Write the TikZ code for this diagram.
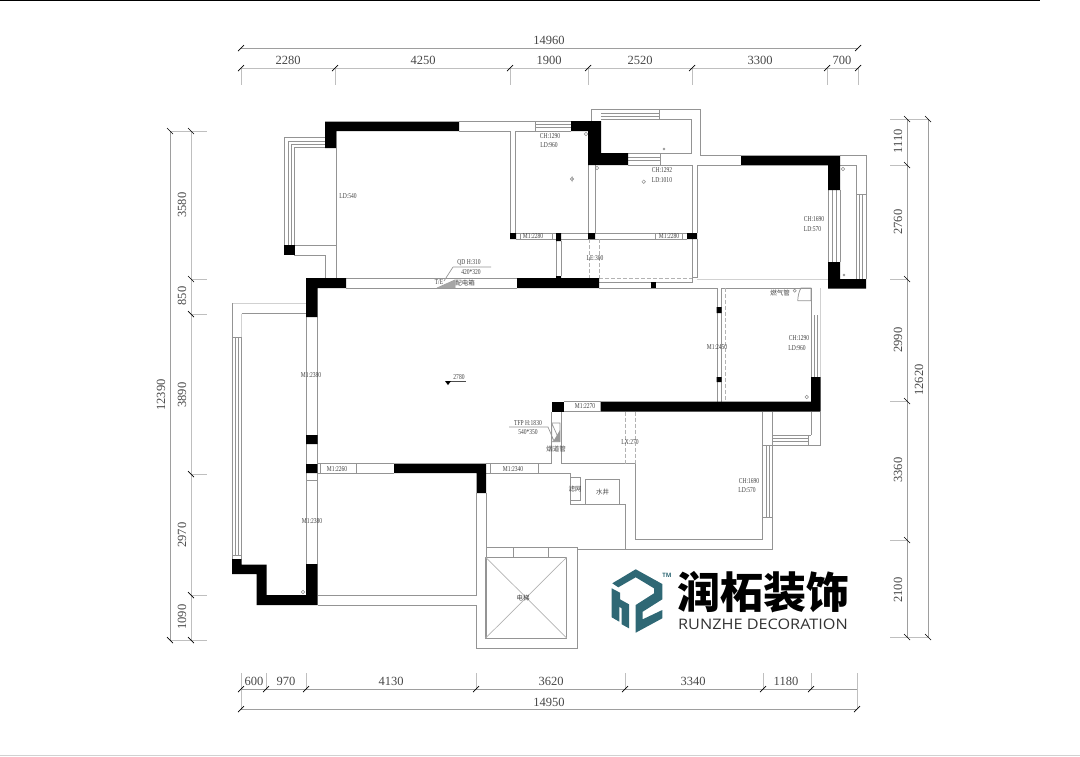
\documentclass[tikz,border=0pt]{standalone}
\usepackage{fontspec}
\setmainfont{Liberation Serif}
\newfontfamily\cjk{Noto Sans CJK SC}
\newfontfamily\logofont{Open Sans}
\definecolor{logoteal}{RGB}{47,104,117}
\begin{document}
\begin{tikzpicture}[x=1pt,y=-1pt]
\tikzstyle{wall} = [fill=black,draw=none]
\tikzstyle{plan} = [draw=black!42,line width=0.7pt]
\tikzstyle{faint} = [draw=black!18,line width=0.7pt]
\tikzstyle{dashline} = [draw=black!30,line width=0.7pt,dash pattern=on 4pt off 2pt]
\tikzstyle{dimline} = [draw=black!38,line width=0.7pt]
\tikzstyle{dimext} = [draw=black!25,line width=0.6pt]
\tikzstyle{slash} = [draw=black,line width=0.7pt]
\tikzstyle{dimtext} = [inner sep=0pt,text=black!72,font=\fontsize{12.5}{13}\selectfont]
\tikzstyle{note} = [inner sep=0pt,text=black!75,transform shape,xscale=.74,font=\fontsize{7.5}{8}\selectfont]
\tikzstyle{cjknote} = [inner sep=0pt,text=black!75,font=\cjk\fontsize{6.5}{7}\selectfont]
\useasboundingbox (0,0) rectangle (1080,756);
\draw[draw=black,line width=0.8pt] (0,0.5) -- (1040,0.5);
\draw[faint] (0,755.5) -- (1080,755.5);

% top dimensions
\draw[dimline] (241,48) -- (858,48);
\draw[dimext] (241,68) -- (858,68);
\draw[dimext] (241,68) -- (241,85) (335,68) -- (335,85) (510,68) -- (510,85)
  (588,68) -- (588,85) (692,68) -- (692,85) (827,68) -- (827,85) (858,68) -- (858,85);
\draw[slash] (241,48) ++(-3,3) -- ++(6,-6) (858,48) ++(-3,3) -- ++(6,-6)
  (241,68) ++(-3,3) -- ++(6,-6) (335,68) ++(-3,3) -- ++(6,-6) (510,68) ++(-3,3) -- ++(6,-6)
  (588,68) ++(-3,3) -- ++(6,-6) (692,68) ++(-3,3) -- ++(6,-6) (827,68) ++(-3,3) -- ++(6,-6)
  (858,68) ++(-3,3) -- ++(6,-6);
\node[dimtext] (topall) at (549,40) {14960};
\node[dimtext] (top1) at (288,60) {2280};
\node[dimtext] (top2) at (423,60) {4250};
\node[dimtext] (top3) at (549,60) {1900};
\node[dimtext] (top4) at (640,60) {2520};
\node[dimtext] (top5) at (760,60) {3300};
\node[dimtext] (top6) at (842,60) {700};

% left dimensions
\draw[dimline] (170,131) -- (170,640);
\draw[dimext] (191,131) -- (191,640);
\draw[dimext] (170,131) -- (207,131) (191,279) -- (207,279) (191,314) -- (207,314)
  (191,474) -- (207,474) (191,595) -- (207,595) (170,640) -- (207,640);
\draw[slash] (170,131) ++(-3,-3) -- ++(6,6) (191,131) ++(-3,-3) -- ++(6,6)
  (191,279) ++(-3,-3) -- ++(6,6) (191,314) ++(-3,-3) -- ++(6,6) (191,474) ++(-3,-3) -- ++(6,6)
  (191,595) ++(-3,-3) -- ++(6,6) (191,640) ++(-3,-3) -- ++(6,6) (170,640) ++(-3,-3) -- ++(6,6);
\node[dimtext,rotate=90] (leftall) at (161,395) {12390};
\node[dimtext,rotate=90] (left1) at (182,205) {3580};
\node[dimtext,rotate=90] (left2) at (182,296) {850};
\node[dimtext,rotate=90] (left3) at (182,395) {3890};
\node[dimtext,rotate=90] (left4) at (182,535) {2970};
\node[dimtext,rotate=90] (left5) at (182,617) {1090};

% right dimensions
\draw[dimline] (907,119) -- (907,637) (928,119) -- (928,637);
\draw[dimext] (890,119) -- (928,119) (890,165) -- (907,165) (890,279) -- (907,279)
  (890,401) -- (907,401) (890,540) -- (907,540) (890,637) -- (928,637);
\draw[slash] (907,119) ++(-3,-3) -- ++(6,6) (928,119) ++(-3,-3) -- ++(6,6)
  (907,165) ++(-3,-3) -- ++(6,6) (907,279) ++(-3,-3) -- ++(6,6) (907,401) ++(-3,-3) -- ++(6,6)
  (907,540) ++(-3,-3) -- ++(6,6) (907,637) ++(-3,-3) -- ++(6,6) (928,637) ++(-3,-3) -- ++(6,6);
\node[dimtext,rotate=90] (rightall) at (919,380) {12620};
\node[dimtext,rotate=90] (right1) at (898,141) {1110};
\node[dimtext,rotate=90] (right2) at (898,222) {2760};
\node[dimtext,rotate=90] (right3) at (898,340) {2990};
\node[dimtext,rotate=90] (right4) at (898,470) {3360};
\node[dimtext,rotate=90] (right5) at (898,590) {2100};

% bottom dimensions
\draw[dimline] (241,689) -- (857,689) (241,709) -- (857,709);
\draw[dimext] (241,673) -- (241,709) (266,673) -- (266,689) (306,673) -- (306,689)
  (476,673) -- (476,689) (625,673) -- (625,689) (763,673) -- (763,689) (811,673) -- (811,689)
  (857,673) -- (857,709);
\draw[slash] (241,689) ++(-3,3) -- ++(6,-6) (266,689) ++(-3,3) -- ++(6,-6) (306,689) ++(-3,3) -- ++(6,-6)
  (476,689) ++(-3,3) -- ++(6,-6) (625,689) ++(-3,3) -- ++(6,-6) (763,689) ++(-3,3) -- ++(6,-6)
  (811,689) ++(-3,3) -- ++(6,-6) (241,709) ++(-3,3) -- ++(6,-6) (857,709) ++(-3,3) -- ++(6,-6);
\node[dimtext] (bot1) at (254,681) {600};
\node[dimtext] (bot2) at (286,681) {970};
\node[dimtext] (bot3) at (391,681) {4130};
\node[dimtext] (bot4) at (551,681) {3620};
\node[dimtext] (bot5) at (693,681) {3340};
\node[dimtext] (bot6) at (786,681) {1180};
\node[dimtext] (botall) at (549,702) {14950};

% thin walls, upper part
\draw[plan] (284,137.5) -- (325,137.5) (288,141) -- (325,141) (291,144) -- (325,144) (294,147.5) -- (325,147.5);
\draw[plan] (284,137.5) -- (284,245) (288,141) -- (288,245) (291,144) -- (291,245) (294,147.5) -- (294,245);
\draw[plan] (294,245) -- (336,245) (294,255) -- (325,255) -- (325,279) (336,131) -- (336,279);
\draw[plan] (459,121.5) -- (571,121.5) (459,131) -- (510,131) -- (510,233) (515,233) -- (515,131) -- (571,131);
\draw[plan] (535,124.5) -- (571,124.5) (535,127.5) -- (571,127.5) (535,121.5) -- (535,131);
\draw[plan] (591,121) -- (591,109) -- (700,109) -- (700,155) -- (741,155);
\draw[plan] (601,119) -- (691,119) -- (691,153) -- (628,153);
\draw[plan] (601,113) -- (659,113) (601,116) -- (659,116) (659,109) -- (659,119);
\draw[plan] (628,157) -- (660,157) (628,160) -- (660,160) (660,153) -- (660,165);
\draw[plan] (628,165) -- (692.5,165) -- (692.5,282) -- (599,282) (595,165) -- (595,233) (588,165) -- (588,233);
\draw[plan] (697,233) -- (697,165) -- (741,165) (697,239) -- (697,277) -- (692.5,277);
\draw[faint] (697,279) -- (828,279);
\draw[plan] (516,233) -- (687,233) (516,239) -- (687,239);
\draw[plan] (520,233) -- (520,239) (552,233) -- (552,239) (655,233) -- (655,239) (682,233) -- (682,239);
\draw[plan] (556,241) -- (556,276) (561,241) -- (561,276);
\draw[dashline] (589,239) -- (589,278) (599,239) -- (599,278) (599,278) -- (692,278);
\draw[plan] (840,155) -- (866,155) -- (866,279) (840,165) -- (856,165) -- (856,194) -- (866,194);
\draw[plan] (859,194) -- (859,279) (862,194) -- (862,279) (856,194) -- (856,279);
\draw[plan] (828,190) -- (828,262) (832,190) -- (832,262) (836,190) -- (836,262) (840,190) -- (840,262);
\draw[plan] (346,278.5) -- (517,278.5) (346,288) -- (517,288) (599,288) -- (717,288);
\draw[plan] (721.7,288) -- (811,288) (717,288) -- (717,401.7) (721.7,288) -- (721.7,401.7);
\draw[dashline] (725.7,288) -- (725.7,401.7);
\draw[plan] (811,288) -- (811,377) (814,315) -- (814,377) (817.5,315) -- (817.5,377);
\draw[faint] (820.7,288) -- (820.7,377);

% thin walls, left part
\draw[faint] (232,303) -- (306,303) (241.7,313.5) -- (241.7,337);
\draw[plan] (241.7,313.5) -- (306,313.5) (232,303) -- (232,559) (235,337) -- (235,555) (238,337) -- (238,555);
\draw[plan] (241.7,337) -- (241.7,559) (232,337.5) -- (241.7,337.5) (232,555) -- (241.7,555);
\draw[plan] (306,317) -- (306,564) (317.5,317) -- (317.5,464) (317.5,473) -- (317.5,564);
\draw[plan] (306,480) -- (317.5,480);
\draw[plan] (317.5,463.7) -- (394,463.7) (317.5,473) -- (394,473) (320.7,463.7) -- (320.7,473) (356.7,463.7) -- (356.7,473);
\draw[plan] (476.5,493) -- (476.5,595) -- (317.5,595) (317.5,605) -- (476.7,605) -- (476.7,648) -- (577.3,648) -- (577.3,547.3) -- (485.7,547.3);
\draw[plan] (486,493) -- (486,638);

% elevator
\draw[plan] (485.7,557.3) rectangle (566.7,638) (513,547.3) -- (513,557.3) (548.7,547.3) -- (548.7,557.3);
\draw[plan,draw=black!30] (485.7,557.3) -- (566.7,638) (566.7,557.3) -- (485.7,638);
\draw[plan] (577.3,549) -- (772.3,549) -- (772.3,517);

% thin walls, lower right
\draw[plan] (486,463.5) -- (551.7,463.5) -- (551.7,411.7) (561,411.7) -- (561,463.5) -- (635.3,463.5);
\draw[plan] (486,473) -- (570,473) -- (570,504) -- (625.3,504) -- (625.3,549) (490.7,463.5) -- (490.7,473) (538.3,463.5) -- (538.3,473);
\draw[dashline] (625.3,411.7) -- (625.3,463.5) (635.3,411.7) -- (635.3,463.5);
\draw[plan] (635.3,463.5) -- (635.3,539) -- (762.3,539) -- (762.3,411.7) (772.3,411.7) -- (772.3,445);
\draw[plan] (772.3,435) -- (808,435) (772.3,438) -- (808,438) (772.3,441.7) -- (808,441.7) (772.3,445) -- (820.7,445) -- (820.7,411.7);
\draw[plan] (811,411.7) -- (811,435) (808,435) -- (811,435) (808,435) -- (808,445);
\draw[plan] (762.3,445) -- (772.3,445) (766,445) -- (766,517) (769,445) -- (769,517) (772.3,445) -- (772.3,517) (762.3,517) -- (772.3,517);
\draw[plan] (570,477.7) rectangle (580,500) (585.7,479.3) rectangle (619,504);

% flue and box
\draw[plan] (551.7,423) rectangle (560,441.7) (551.7,423) -- (560,441.7) (509,427) -- (548,427) -- (554,441);
\fill[black!40] (553,441.7) -- (560,441.7) -- (560,430) -- cycle;
\draw[plan] (453,267) -- (491,267) (453,267) -- (444,281) (437,288) -- (455,280) -- (455,288);
\fill[black!35] (437,288) -- (455,280) -- (455,288) -- cycle;
\draw[black!70,line width=0.7pt] (450,381) -- (465.7,381);
\fill[black] (445,381) -- (451,381) -- (448,385) -- cycle;

% thick walls
\fill[wall] (325,121.5) -- (459,121.5) -- (459,131) -- (336,131) -- (336,148) -- (325,148) -- cycle;
\fill[wall] (284,245) rectangle (294.5,255);
\fill[wall] (571,121) -- (601,121) -- (601,153) -- (628,153) -- (628,165) -- (588,165) -- (588,131) -- (571,131) -- cycle;
\fill[wall] (741,155.5) -- (840,155.5) -- (840,190) -- (828,190) -- (828,165.3) -- (741,165.3) -- cycle;
\fill[wall] (828,262) -- (840,262) -- (840,279) -- (866,279) -- (866,288.7) -- (828,288.7) -- cycle;
\fill[wall] (510,233) rectangle (516,239) (556,233) rectangle (561,241) (588,233) rectangle (595,239) (687,233) rectangle (697,239);
\fill[wall] (517,278) -- (556,278) -- (556,276) -- (561,276) -- (561,278) -- (599,278) -- (599,288) -- (517,288) -- cycle;
\fill[wall] (651,282) rectangle (656,288);
\fill[wall] (306,278) -- (346,278) -- (346,288) -- (317.5,288) -- (317.5,317) -- (306,317) -- cycle;
\fill[wall] (306,435) rectangle (317.5,444) (306,464) rectangle (317.5,473);
\fill[wall] (232,559) -- (241.7,559) -- (241.7,564.5) -- (266.7,564.5) -- (266.7,595) -- (306,595) -- (306,564) -- (317.5,564) -- (317.5,605) -- (256.5,605) -- (256.5,574) -- (232,574) -- cycle;
\fill[wall] (394,463.7) -- (486,463.7) -- (486,493) -- (476.5,493) -- (476.5,473) -- (394,473) -- cycle;
\fill[wall] (551.7,401.7) rectangle (564,411.7);
\fill[wall] (600.7,401.7) -- (811,401.7) -- (811,377) -- (820.7,377) -- (820.7,411.7) -- (600.7,411.7) -- cycle;
\fill[wall] (716.7,307) rectangle (721.7,313) (716.7,377) rectangle (721.7,382);
\draw[plan] (564,401.7) -- (600.7,401.7) (564,411.7) -- (600.7,411.7);

% pipes
\draw[black!45,line width=0.5pt] (586,134) circle (1.8) (572,179) circle (1.8) (572,176) -- (572,182)
  (597,168) circle (1.8) (643.7,181.7) circle (1.8) (664,149) circle (1) (843,169) circle (1.8) (844,275) circle (1)
  (794.7,290.7) circle (1.6) (806.7,397) circle (1.8) (303,592) circle (1.8);
\draw[plan] (797.7,300.7) -- (811,300.7) -- (811,288) -- (801,288) .. controls (799,291) and (798,296) .. (797.7,300.7);

% small labels
\node[note] (bay1) at (348,196) {LD:540};
\node[note] (room1a) at (550,136) {CH:1290};
\node[note] (room1b) at (549,145) {LD:960};
\node[note] (room2a) at (662,170) {CH:1292};
\node[note] (room2b) at (662,180) {LD:1010};
\node[note] (room3a) at (814,219) {CH:1690};
\node[note] (room3b) at (812.5,229) {LD:570};
\node[note] (door1) at (533,236) {M1:2280};
\node[note] (door2) at (669,236) {M1:2280};
\node[note] (lift1) at (595,258) {LE:300};
\node[note] (box1) at (469,263) {QD H:310};
\node[note] (box2) at (471,272) {420*320};
\node[note] (box3) at (439,282) {T/E};
\node[cjknote] (box4) at (465,283) {配电箱};
\node[note] (level) at (459,377) {2780};
\node[note] (door3) at (311,375) {M1:2380};
\node[note] (door4) at (312,521) {M1:2380};
\node[note] (door5) at (337,468.7) {M1:2260};
\node[note] (door6) at (513,468.7) {M1:2340};
\node[note] (door7) at (585,406) {M1:2270};
\node[note] (door8) at (717,347) {M1:2450};
\node[note] (room4a) at (799,338) {CH:1290};
\node[note] (room4b) at (797,347.7) {LD:960};
\node[cjknote] (gas) at (780,293) {燃气管};
\node[note] (lift2) at (630,442) {LX:270};
\node[note] (room5a) at (749,481) {CH:1690};
\node[note] (room5b) at (747,490) {LD:570};
\node[note] (flue1) at (528,422.7) {TFP H:1830};
\node[note] (flue2) at (528,431.7) {540*350};
\node[cjknote] (flue3) at (556,448.7) {烟道管};
\node[cjknote] (filter) at (575,489) {滤网};
\node[cjknote] (well) at (602.7,492) {水井};
\node[cjknote] (elevator) at (523,598) {电梯};

% logo
\fill[logoteal] (612.3,583.3) -- (635.7,569.3) -- (662.3,584) -- (662.3,599.3) -- (642.7,611.7) -- (642.7,619.3) -- (662.3,610) -- (662.3,618.3) -- (635.7,632.7) -- (635.7,605) -- (654,593.3) -- (654,588.3) -- (635.7,577.3) -- (618.3,587.3) -- cycle;
\fill[logoteal] (611.7,588.3) -- (620,592.7) -- (620,599.3) -- (629,604.3) -- (629,628.3) -- (621.7,624.3) -- (621.7,608.3) -- (619.3,606.7) -- (619.3,621.7) -- (611.7,617.3) -- cycle;
\node[inner sep=0pt,text=logoteal,font=\logofont\bfseries\fontsize{6}{6}\selectfont] (tm) at (667,575) {TM};
\node[inner sep=0pt,font=\cjk\bfseries\fontsize{43}{43}\selectfont] (brand) at (763,592) {润柘装饰};
\node[inner sep=0pt,text=black!80,transform shape,xscale=1.12,font=\logofont\fontsize{14.5}{15}\selectfont] (brand2) at (763,624.5) {RUNZHE DECORATION};
\end{tikzpicture}
\end{document}
